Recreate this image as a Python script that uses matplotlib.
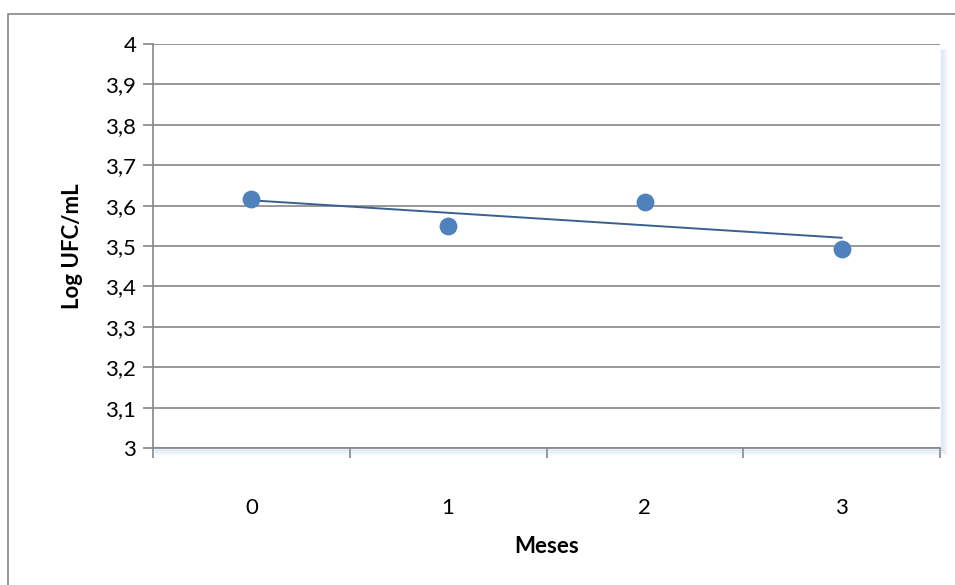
import numpy as np
import matplotlib.pyplot as plt
from matplotlib.patches import Rectangle
from matplotlib.ticker import FuncFormatter

plt.rcParams['font.family'] = ['Lato', 'DejaVu Sans']

meses = [0, 1, 2, 3]
log_ufc = [3.616, 3.549, 3.609, 3.493]

fig = plt.figure(figsize=(9.55, 5.85), dpi=100)
ax = fig.add_axes([153/955, 1 - 448/585, (940-153)/955, (448-44)/585])

# linear trendline (Excel style)
coef = np.polyfit(meses, log_ufc, 1)
xt = np.array([meses[0], meses[-1]])
ax.plot(xt, np.polyval(coef, xt), color='#3A5F8E', lw=1.4, zorder=3)
ax.scatter(meses, log_ufc, s=165, color='#4F81BD', zorder=4, linewidths=0)

ax.set_xlim(-0.5, 3.5)
ax.set_ylim(3, 4)
ax.set_yticks(np.arange(3, 4.01, 0.1))
ax.yaxis.set_major_formatter(FuncFormatter(lambda v, p: f'{v:.1f}'.replace('.', ',').replace(',0', '')))
ax.set_xticks(meses)
ax.set_xticks(np.arange(-0.5, 3.6, 1), minor=True)
ax.tick_params(axis='x', which='major', length=0, pad=36, labelsize=16)
ax.tick_params(axis='x', which='minor', length=7, width=1.2, color='#868686', direction='out')
ax.tick_params(axis='y', length=7, width=1.2, color='#868686', labelsize=16, pad=5)

ax.grid(axis='y', color='#868686', lw=1.2)
ax.set_axisbelow(True)
for s in ['top', 'right']:
    ax.spines[s].set_visible(False)
for s in ['left', 'bottom']:
    ax.spines[s].set_color('#868686')
    ax.spines[s].set_linewidth(1.2)

# soft blue shadow on the plot area
for i in range(7):
    a = 0.25 * (1 - i / 7)
    xs = 3.5 + (i + 0.5) * 4 / 787
    ys = 3 - (i + 0.5) / 404
    ax.plot([xs, xs], [ys, 3.985], color='#8DB3E2', alpha=a, lw=1, clip_on=False, zorder=1)
    ax.plot([-0.49, xs], [ys, ys], color='#8DB3E2', alpha=a, lw=1, clip_on=False, zorder=1)

ax.set_ylabel('Log UFC/mL', fontweight='bold', fontsize=16, labelpad=16)
ax.set_xlabel('Meses', fontweight='bold', fontsize=16, labelpad=13)

fig.patches.append(Rectangle((8/955, -0.01), 1.0, 1 - 14/585 + 0.01, transform=fig.transFigure,
                             fill=False, edgecolor='#868686', lw=1.2))

fig.savefig('out.png', dpi=100)
